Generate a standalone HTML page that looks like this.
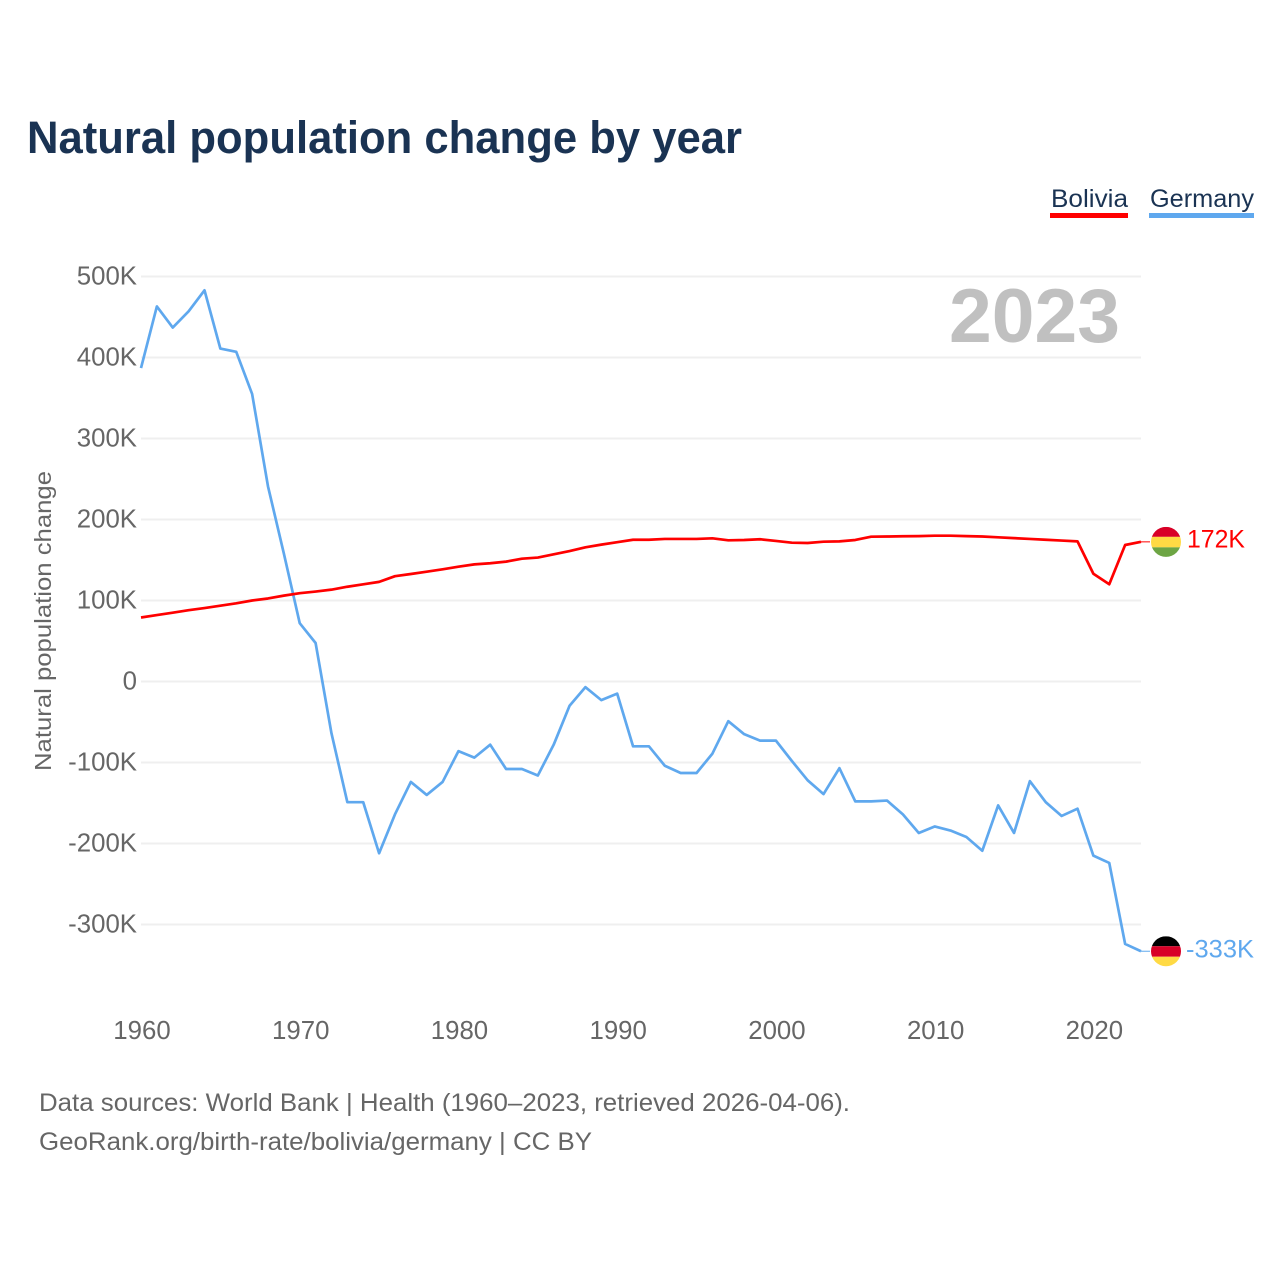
<!DOCTYPE html>
<html lang="en">
<head>
<meta charset="utf-8">
<title>Natural population change by year</title>
<style>
html,body{margin:0;padding:0;background:#fff;width:1280px;height:1280px;overflow:hidden}
svg{display:block;font-family:"Liberation Sans",sans-serif}
</style>
</head>
<body>
<svg id="chart" xmlns="http://www.w3.org/2000/svg" width="1280" height="1280" viewBox="0 0 1280 1280">
  <defs>
    <clipPath id="flag-clip"><circle cx="0" cy="0" r="15"></circle></clipPath>
  </defs>
  <text x="27" y="153" font-size="45" font-weight="700" fill="#1a3353" textLength="715" lengthAdjust="spacingAndGlyphs">Natural population change by year</text>

  <g>
    <g>
      <text x="1051" y="207" font-size="25" fill="#1a3353" textLength="77" lengthAdjust="spacingAndGlyphs">Bolivia</text>
      <rect x="1050" y="213" width="78" height="5" fill="#ff0000"></rect>
    </g>
    <g>
      <text x="1150" y="207" font-size="25" fill="#1a3353" textLength="104" lengthAdjust="spacingAndGlyphs">Germany</text>
      <rect x="1149" y="213" width="105" height="5" fill="#5fa8ee"></rect>
    </g>
  </g>

  <g id="grid"></g>
  <g id="y-axis"></g>
  <g id="x-axis"></g>
  <text transform="translate(51,621) rotate(-90)" text-anchor="middle" font-size="23" fill="#666666" textLength="300" lengthAdjust="spacingAndGlyphs">Natural population change</text>
  <text id="year-watermark" x="1120" y="342" text-anchor="end" font-size="76" font-weight="700" fill="#c0c0c0" textLength="171" lengthAdjust="spacingAndGlyphs"></text>

  <g id="series"></g>

  <g id="flag-bolivia">
    <g clip-path="url(#flag-clip)">
      <rect x="-15" y="-15" width="30" height="10" fill="#d80027"></rect>
      <rect x="-15" y="-5" width="30" height="10.5" fill="#ffda44"></rect>
      <rect x="-15" y="5.5" width="30" height="10" fill="#6da544"></rect>
    </g>
  </g>
  <g id="flag-germany">
    <g clip-path="url(#flag-clip)">
      <rect x="-15" y="-15" width="30" height="10" fill="#000000"></rect>
      <rect x="-15" y="-5" width="30" height="10.5" fill="#d80027"></rect>
      <rect x="-15" y="5.5" width="30" height="10" fill="#ffda44"></rect>
    </g>
  </g>
  <text id="end-label-bolivia" x="1187" font-size="25" fill="#ff0000" textLength="58" lengthAdjust="spacingAndGlyphs"></text>
  <text id="end-label-germany" x="1186" font-size="25" fill="#5fa8ee" textLength="68" lengthAdjust="spacingAndGlyphs"></text>

  <g>
    <text x="39" y="1111" font-size="25" fill="#666666" textLength="811" lengthAdjust="spacingAndGlyphs">Data sources: World Bank | Health (1960–2023, retrieved 2026-04-06).</text>
    <text x="39" y="1150" font-size="25" fill="#666666" textLength="553" lengthAdjust="spacingAndGlyphs">GeoRank.org/birth-rate/bolivia/germany | CC BY</text>
  </g>
</svg>
<script>
const firstYear = 1960;
const xTickYears = [1960, 1970, 1980, 1990, 2000, 2010, 2020];
const yTickValues = [500, 400, 300, 200, 100, 0, -100, -200, -300];
const boliviaValues = [79, 82, 85, 88, 90.7, 93.6, 96.5, 100, 102.5, 106, 109, 111, 113.4, 117, 120, 123, 130, 132.7, 135.6, 138.5, 141.7, 144.6, 146, 148, 151.6, 153, 157, 161, 165.7, 169, 172, 175, 175, 176, 176, 176, 176.8, 174.3, 174.7, 175.6, 173.5, 171.4, 171, 172.6, 173, 174.7, 178.8, 179, 179.3, 179.5, 180, 180, 179.5, 179, 178, 177, 176, 175, 174, 173, 133, 120, 168.5, 172.4];
const germanyValues = [387, 463, 437, 457, 483, 411, 407, 355, 241, 158, 72, 47.5, -64, -149, -149, -212, -164, -124, -140, -124, -86, -94, -78, -108, -108, -116, -78, -30, -7, -23, -15, -80, -80, -104, -113, -113, -89, -49, -65, -73, -73, -98, -122, -139, -107, -148, -148, -147, -164, -187, -179, -184, -192, -209, -153, -187, -123, -149, -166, -157, -215, -224, -324, -333];

const NS = 'http://www.w3.org/2000/svg';
const xScale = function (year) { return 141 + (year - 1960) * (1000 / 63); };
const yScale = function (value) { return 681.5 - value * 0.81; };
const tickLabel = function (value) { return value === 0 ? '0' : value + 'K'; };
const make = function (tag, attrs, parent, text) {
  const el = document.createElementNS(NS, tag);
  Object.keys(attrs).forEach(function (k) { el.setAttribute(k, attrs[k]); });
  if (text !== undefined) el.textContent = text;
  parent.appendChild(el);
  return el;
};

const gridGroup = document.getElementById('grid');
const yAxisGroup = document.getElementById('y-axis');
const xAxisGroup = document.getElementById('x-axis');
const seriesGroup = document.getElementById('series');

yTickValues.forEach(function (v) {
  const line = make('line', { x1: 141, x2: 1141, y1: yScale(v), y2: yScale(v), stroke: '#efefef', 'stroke-width': 2 }, gridGroup);
  
  
  const label = make('text', { x: 137, y: yScale(v) + 8, 'text-anchor': 'end', 'font-size': 25.8, fill: '#666666' }, yAxisGroup, tickLabel(v));
  
  
});

xTickYears.forEach(function (year) {
  const label = make('text', { x: xScale(year) + 1, y: 1039, 'text-anchor': 'middle', 'font-size': 25.8, fill: '#666666' }, xAxisGroup, String(year));
  
  
});

const linePath = function (values) {
  return values.map(function (v, i) {
    return (i ? 'L' : 'M') + xScale(firstYear + i).toFixed(2) + ' ' + yScale(v).toFixed(2);
  }).join(' ');
};

const germanyLine = make('path', { d: linePath(germanyValues), fill: 'none', stroke: '#5fa8ee', 'stroke-width': 2.7, 'stroke-linejoin': 'round' }, seriesGroup);



const boliviaLine = make('path', { d: linePath(boliviaValues), fill: 'none', stroke: '#ff0000', 'stroke-width': 2.7, 'stroke-linejoin': 'round' }, seriesGroup);



const lastIndex = boliviaValues.length - 1;
const lastYear = firstYear + lastIndex;
const boliviaEndY = yScale(boliviaValues[lastIndex]);
const germanyEndY = yScale(germanyValues[lastIndex]);

const boliviaConnector = make('line', { x1: xScale(lastYear), x2: 1150, y1: boliviaEndY, y2: boliviaEndY, stroke: '#ff0000', 'stroke-width': 1 }, seriesGroup);



const germanyConnector = make('line', { x1: xScale(lastYear), x2: 1150, y1: germanyEndY, y2: germanyEndY, stroke: '#5fa8ee', 'stroke-width': 1 }, seriesGroup);



document.getElementById('flag-bolivia').setAttribute('transform', 'translate(1166,' + boliviaEndY + ')');
document.getElementById('flag-germany').setAttribute('transform', 'translate(1166,' + germanyEndY + ')');

const boliviaLabel = document.getElementById('end-label-bolivia');
boliviaLabel.setAttribute('y', boliviaEndY + 5.5);
boliviaLabel.textContent = Math.round(boliviaValues[lastIndex]) + 'K';

const germanyLabel = document.getElementById('end-label-germany');
germanyLabel.setAttribute('y', germanyEndY + 6.5);
germanyLabel.textContent = Math.round(germanyValues[lastIndex]) + 'K';

document.getElementById('year-watermark').textContent = String(lastYear);
</script>
</body>
</html>
